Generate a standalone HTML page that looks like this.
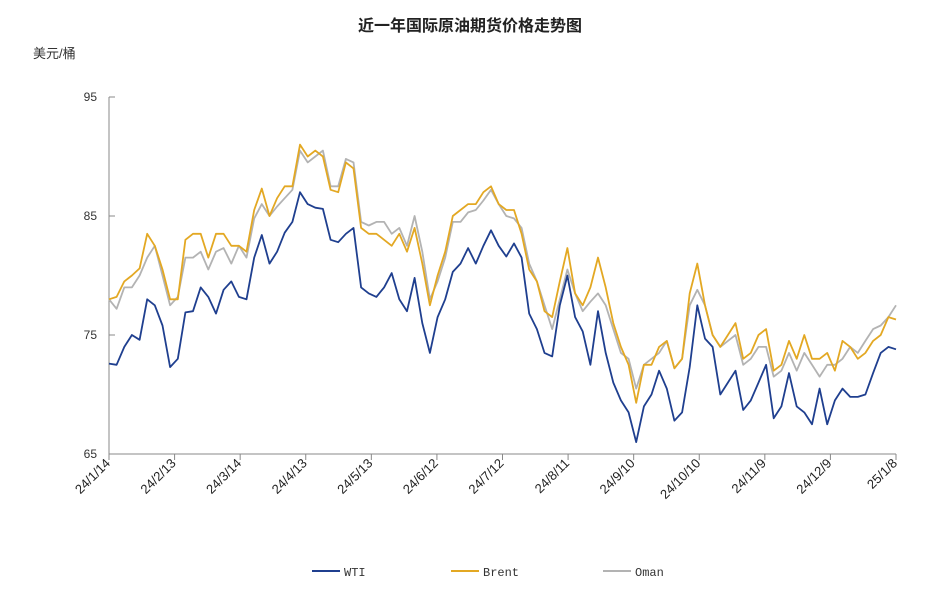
<!DOCTYPE html>
<html><head><meta charset="utf-8"><style>
body{margin:0;background:#fff;}
svg{display:block;font-family:"Liberation Sans","Noto Sans CJK SC",sans-serif;}
</style></head><body>
<svg id="chart" width="939" height="602">
<text x="470" y="31" text-anchor="middle" font-size="16" font-weight="bold" fill="#222">近一年国际原油期货价格走势图</text>
<text x="33" y="58" font-size="13" fill="#333">美元/桶</text>
<g id="axes"></g><g id="lines"></g>
<g>
<g><line x1="312" y1="571" x2="340" y2="571" stroke="#1f3f8f" stroke-width="2"/><text x="344" y="576" font-size="12" fill="#333" font-family="Liberation Mono, monospace">WTI</text></g>
<g><line x1="451" y1="571" x2="479" y2="571" stroke="#e3a823" stroke-width="2"/><text x="483" y="576" font-size="12" fill="#333" font-family="Liberation Mono, monospace">Brent</text></g>
<g><line x1="603" y1="571" x2="631" y2="571" stroke="#b3b3b3" stroke-width="2"/><text x="635" y="576" font-size="12" fill="#333" font-family="Liberation Mono, monospace">Oman</text></g>
</g>
</svg>
<script>
const xLabels=["24/1/14","24/2/13","24/3/14","24/4/13","24/5/13","24/6/12","24/7/12","24/8/11","24/9/10","24/10/10","24/11/9","24/12/9","25/1/8"];
const yTicks=[65,75,85,95];
const wti=[72.6,72.5,74.0,75.0,74.6,78.0,77.5,75.8,72.3,73.0,76.9,77.0,79.0,78.2,76.8,78.8,79.5,78.2,78.0,81.5,83.4,81.0,82.0,83.6,84.5,87.0,86.0,85.7,85.6,83.0,82.8,83.5,84.0,79.0,78.5,78.2,79.0,80.2,78.0,77.0,79.8,76.0,73.5,76.5,78.0,80.3,81.0,82.3,81.0,82.5,83.8,82.5,81.6,82.7,81.5,76.8,75.5,73.5,73.2,77.5,80.0,76.5,75.3,72.5,77.0,73.5,71.0,69.5,68.5,66.0,69.0,70.0,72.0,70.5,67.8,68.5,72.3,77.5,74.7,74.0,70.0,71.0,72.0,68.7,69.5,71.0,72.5,68.0,69.0,71.8,69.0,68.5,67.5,70.5,67.5,69.5,70.5,69.8,69.8,70.0,71.8,73.5,74.0,73.8];
const brent=[78.0,78.2,79.5,80.0,80.6,83.5,82.5,80.5,78.0,78.0,83.0,83.5,83.5,81.5,83.5,83.5,82.5,82.5,82.0,85.5,87.3,85.0,86.5,87.5,87.5,91.0,90.0,90.5,90.0,87.2,87.0,89.5,89.0,84.0,83.5,83.5,83.0,82.5,83.5,82.0,84.0,81.0,77.5,80.0,82.0,85.0,85.5,86.0,86.0,87.0,87.5,86.0,85.5,85.5,83.5,80.5,79.5,77.0,76.5,79.5,82.3,78.5,77.5,79.0,81.5,79.0,76.0,74.0,72.5,69.3,72.5,72.5,74.0,74.5,72.2,73.0,78.5,81.0,77.5,75.0,74.0,75.0,76.0,73.0,73.5,75.0,75.5,72.0,72.5,74.5,73.0,75.0,73.0,73.0,73.5,72.0,74.5,74.0,73.0,73.5,74.5,75.0,76.5,76.3];
const oman=[78.0,77.2,79.0,79.0,80.0,81.5,82.5,80.0,77.5,78.2,81.5,81.5,82.0,80.5,82.0,82.3,81.0,82.5,81.5,84.8,86.0,85.0,85.8,86.5,87.2,90.5,89.5,90.0,90.5,87.5,87.5,89.8,89.5,84.5,84.2,84.5,84.5,83.5,84.0,82.5,85.0,82.0,78.0,79.5,81.5,84.5,84.5,85.3,85.5,86.3,87.2,86.0,85.0,84.8,84.0,81.0,79.5,77.5,75.5,78.0,80.5,78.5,77.0,77.8,78.5,77.5,75.5,73.5,73.0,70.5,72.5,73.0,73.5,74.5,72.2,73.0,77.5,78.8,77.5,75.0,74.0,74.5,75.0,72.5,73.0,74.0,74.0,71.5,72.0,73.5,72.0,73.5,72.5,71.5,72.5,72.5,73.0,74.0,73.5,74.5,75.5,75.8,76.5,77.5];
const X0=109,X1=896,Y0=454,Y1=97;
const ys=v=>Y0-(v-65)/(95-65)*(Y0-Y1);
const NS="http://www.w3.org/2000/svg";
function mk(tag,attrs,parent){const e=document.createElementNS(NS,tag);for(const k in attrs)e.setAttribute(k,attrs[k]);parent.appendChild(e);return e;}
const ax=document.getElementById('axes');
const yl=mk('line',{x1:X0,y1:Y1,x2:X0,y2:Y0,stroke:'#888','stroke-width':1},ax);


const xl=mk('line',{x1:X0,y1:Y0,x2:X1,y2:Y0,stroke:'#888','stroke-width':1},ax);


yTicks.forEach(v=>{const y=ys(v);
 mk('line',{x1:X0,y1:y,x2:X0+6,y2:y,stroke:'#888'},ax);
 const t=mk('text',{x:X0-12,y:y+4,'text-anchor':'end','font-size':12,fill:'#333'},ax);t.textContent=v;
 
 
});
xLabels.forEach((s,i)=>{const x=X0+i*(X1-X0)/(xLabels.length-1);
 mk('line',{x1:x,y1:Y0,x2:x,y2:Y0+6,stroke:'#888'},ax);
 const t=mk('text',{x:x+2,y:Y0+10,'text-anchor':'end','font-size':13,fill:'#222',transform:`rotate(-45 ${x+2} ${Y0+10})`},ax);t.textContent=s;
 
 
});
const lg=document.getElementById('lines');
function draw(arr,color,name){
 const n=arr.length;const pts=arr.map((v,i)=>(X0+i*(X1-X0)/(n-1)).toFixed(1)+','+ys(v).toFixed(1)).join(' ');
 const p=mk('polyline',{points:pts,fill:'none',stroke:color,'stroke-width':1.8,'stroke-linejoin':'round'},lg);
 
 
}
draw(oman,'#b3b3b3','oman-line');
draw(brent,'#e3a823','brent-line');
draw(wti,'#1f3f8f','wti-line');
</script>
</body></html>
